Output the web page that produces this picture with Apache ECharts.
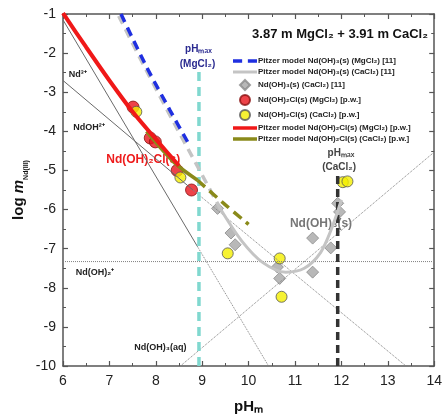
<!DOCTYPE html>
<html>
<head>
<meta charset="utf-8">
<script src="https://cdn.jsdelivr.net/npm/echarts@6/dist/echarts.min.js"></script>
<style>
	html, body { margin: 0; padding: 0; background: #fff; }
	#chart { width: 445px; height: 420px; }
</style>
</head>
<body>
<div id="chart"></div>
<script>
// pH axis and log m axis ranges
var xRange = [6, 14];
var yRange = [-10, -1];

// species lines (thin, solid part and dotted part)
var nd3Solid = [[6, -1.15], [8.9, -6.95]];
var nd3Dotted = [[8.9, -6.95], [10.43, -10]];
var ndOHSolid = [[6, -2.7], [8.8, -5.5]];
var ndOHDotted = [[8.8, -5.5], [13.39, -10]];
var ndOH2Dotted = [[6, -7.33], [14, -7.33]];
var ndOH3aqDotted = [[8.53, -10], [14, -4.53]];

// pH max lines
var phMaxMg = [[8.93, -10], [8.93, -2.45]];
var phMaxCa = [[11.92, -10], [11.92, -5.1]];

// Pitzer model curves
var pitzerOH3Mg = [[7.25, -1.0], [7.8, -2.35], [8.3, -3.45], [8.7, -4.3]];
var pitzerOH3CaDash = [[7.2, -1.05], [7.8, -2.45], [8.4, -3.8], [8.9, -4.9], [9.4, -6.0]];
var pitzerOH3Ca = [[9.4, -6.0], [9.85, -6.8], [10.3, -7.35], [10.8, -7.6], [11.2, -7.5],
	[11.55, -7.1], [11.8, -6.45], [12.0, -5.75]];
var pitzerClMg = [[6, -0.98], [6.5, -1.85], [7.0, -2.7], [7.5, -3.5], [8.0, -4.2], [8.5, -4.88]];
var pitzerClCaSolid = [[7.8, -4.0], [8.4, -4.8], [8.9, -5.25]];
var pitzerClCa = [[8.9, -5.25], [9.5, -5.88], [10.0, -6.38]];

// experimental points
var ndOH3Ca = [[9.33, -5.97], [9.62, -6.6], [9.71, -6.9], [10.62, -7.47], [10.67, -7.76],
	[11.38, -6.73], [11.77, -6.98], [11.38, -7.6], [11.92, -5.84], [11.96, -6.06]];
var ndClMg = [[7.51, -3.38], [7.88, -4.17], [7.99, -4.27], [8.46, -5.0], [8.77, -5.5]];
var ndClCa = [[7.58, -3.5], [8.53, -5.18], [9.55, -7.12], [10.67, -7.25], [10.71, -8.23],
	[12.03, -5.3], [12.13, -5.28]];

var legendNames = [
	'Pitzer model Nd(OH)₃(s) (MgCl₂) [11]',
	'Pitzer model Nd(OH)₃(s) (CaCl₂) [11]',
	'Nd(OH)₃(s) (CaCl₂) [11]',
	'Nd(OH)₂Cl(s) (MgCl₂) [p.w.]',
	'Nd(OH)₂Cl(s) (CaCl₂) [p.w.]',
	'Pitzer model Nd(OH)₂Cl(s) (MgCl₂) [p.w.]',
	'Pitzer model Nd(OH)₂Cl(s) (CaCl₂) [p.w.]'
];

// legend icons: short bars for the model lines, keep the diamond square
var legendIcons = [
	'path://M0,0H8V3H0Z M13,0H21V3H13Z',
	'path://M0,0H24V3H0Z',
	'path://M5,0L10,5L5,10L0,5Z',
	'circle',
	'circle',
	'path://M0,0H24V3.5H0Z',
	'path://M0,0H24V3.5H0Z'
];

var FONT = '"Liberation Sans", Arial, sans-serif';

function thinLine(data, type) {
	return {
		type: 'line', data: data, symbol: 'none', silent: true,
		lineStyle: { color: type === 'solid' ? '#6a6a6a' : '#808080', width: 1, type: type }
	};
}

function curve(name, data, color, width, dash) {
	return {
		name: name, type: 'line', data: data, symbol: 'none', smooth: 0.3,
		itemStyle: { color: color },
		lineStyle: { color: color, width: width, type: dash || 'solid', cap: 'butt' }
	};
}

var mainChart = echarts.init(document.getElementById('chart'));

var axisCommon = {
	type: 'value',
	axisLine: { lineStyle: { color: '#555', width: 1.5 } },
	axisTick: { inside: true, length: 5, lineStyle: { color: '#555', width: 1.2 } },
	minorTick: { show: true, splitNumber: 2, length: 3, lineStyle: { color: '#555', width: 1 } },
	splitLine: { show: false }
};

var chartOption = {
	backgroundColor: '#fff',
	animation: false,
	textStyle: { fontFamily: FONT },
	title: {
		text: '3.87 m MgCl₂ + 3.91 m CaCl₂',
		right: 12,
		top: 23,
		textStyle: { fontSize: 13, fontWeight: 'bold', color: '#111', fontFamily: FONT }
	},
	legend: {
		data: legendNames.map(function (n, i) {
			return { name: n, icon: legendIcons[i] };
		}),
		orient: 'vertical',
		left: 228,
		top: 52,
		itemWidth: 24,
		itemHeight: 10,
		itemGap: 3,
		textStyle: { fontSize: 8, fontWeight: 'bold', color: '#222', fontFamily: FONT, padding: [0, 0, 0, -4] }
	},
	grid: { left: 63, right: 10, top: 14, bottom: 54 },
	xAxis: [
		Object.assign({}, axisCommon, {
			min: xRange[0], max: xRange[1], interval: 1,
			axisLabel: { fontSize: 14, color: '#222', margin: 8 },
			name: 'pHₘ',
			nameLocation: 'middle',
			nameGap: 33,
			nameTextStyle: { fontSize: 15, fontWeight: 'bold', color: '#111' }
		}),
		Object.assign({}, axisCommon, {
			position: 'top', min: xRange[0], max: xRange[1], interval: 1,
			axisLabel: { show: false }
		})
	],
	yAxis: [
		Object.assign({}, axisCommon, {
			min: yRange[0], max: yRange[1], interval: 1,
			axisLabel: { fontSize: 14, color: '#222', margin: 7 },
			name: '{a|log }{i|m}{s|Nd(III)}',
			nameLocation: 'middle',
			nameGap: 33,
			nameMoveOverlap: false,
			nameTextStyle: {
				rich: {
					a: { fontSize: 15, fontWeight: 'bold', color: '#111', lineHeight: 22 },
					i: { fontSize: 15, fontWeight: 'bold', fontStyle: 'italic', color: '#111', lineHeight: 22 },
					s: { fontSize: 7, fontWeight: 'bold', color: '#111', lineHeight: 7, verticalAlign: 'bottom' }
				}
			}
		}),
		Object.assign({}, axisCommon, {
			position: 'right', min: yRange[0], max: yRange[1], interval: 1,
			axisLabel: { show: false }
		})
	],
	series: [
		thinLine(nd3Solid, 'solid'),
		thinLine(nd3Dotted, 'dotted'),
		thinLine(ndOHSolid, 'solid'),
		thinLine(ndOHDotted, 'dotted'),
		thinLine(ndOH2Dotted, 'dotted'),
		thinLine(ndOH3aqDotted, 'dotted'),
		{
			type: 'line', data: phMaxMg, symbol: 'none', silent: true,
			lineStyle: { color: '#80d8cf', width: 3.5, type: [9, 6] }
		},
		{
			type: 'line', data: phMaxCa, symbol: 'none', silent: true,
			lineStyle: { color: '#333', width: 3.5, type: [8, 5] }
		},
		curve('gray-dash', pitzerOH3CaDash, '#c4c4c4', 3.5, [9, 6]),
		curve(legendNames[1], pitzerOH3Ca, '#c4c4c4', 3),
		curve(legendNames[0], pitzerOH3Mg, '#1f2fe0', 3.5, [9, 6]),
		curve('olive-solid', pitzerClCaSolid, '#8a8a1a', 3.5),
		curve(legendNames[6], pitzerClCa, '#8a8a1a', 3.5, [10, 6]),
		curve(legendNames[5], pitzerClMg, '#f01818', 4),
		{
			name: legendNames[2], type: 'scatter', data: ndOH3Ca, symbol: 'diamond', symbolSize: 12,
			itemStyle: { color: '#a6a6a6', borderColor: '#8a8a8a', borderWidth: 1 }
		},
		{
			name: legendNames[3], type: 'scatter', data: ndClMg, symbol: 'circle', symbolSize: 12,
			itemStyle: { color: '#e8141c', borderColor: '#8a1010', borderWidth: 1 }
		},
		{
			name: legendNames[4], type: 'scatter', data: ndClCa, symbol: 'circle', symbolSize: 11,
			itemStyle: { color: '#f4ef00', borderColor: '#555', borderWidth: 1 }
		}
	]
};

mainChart.setOption(chartOption);

// annotations placed in data coordinates
var notes = [
	{ text: 'Nd³⁺', at: [6.32, -2.56], size: 9, color: '#222' },
	{ text: 'NdOH²⁺', at: [6.56, -3.89], size: 9, color: '#222' },
	{ text: 'Nd(OH)₂Cl(s)', at: [7.73, -4.73], size: 12, color: '#ee1c1c' },
	{ text: 'Nd(OH)₂⁺', at: [6.69, -7.6], size: 9, color: '#222' },
	{ text: 'Nd(OH)₃(aq)', at: [8.1, -9.52], size: 9, color: '#222' },
	{ text: 'Nd(OH)₃(s)', at: [11.56, -6.35], size: 12, color: '#777' },
	{ text: 'pHₘₐₓ', at: [8.92, -1.9], size: 10, color: '#2a2a90' },
	{ text: '(MgCl₂)', at: [8.9, -2.28], size: 10, color: '#2a2a90' },
	{ text: 'pHₘₐₓ', at: [11.99, -4.55], size: 10, color: '#444' },
	{ text: '(CaCl₂)', at: [11.95, -4.91], size: 10, color: '#444' }
];

function renderNotes(chart) {
	var els = notes.map(function (n) {
		var p = chart.convertToPixel({ xAxisIndex: 0, yAxisIndex: 0 }, n.at);
		return {
			type: 'text', x: p[0], y: p[1], silent: true,
			style: {
				text: n.text, fill: n.color, fontSize: n.size, fontWeight: 'bold',
				fontFamily: FONT, align: 'center', verticalAlign: 'middle'
			}
		};
	});
	chart.setOption({ graphic: els });
}

renderNotes(mainChart);
</script>
</body>
</html>
